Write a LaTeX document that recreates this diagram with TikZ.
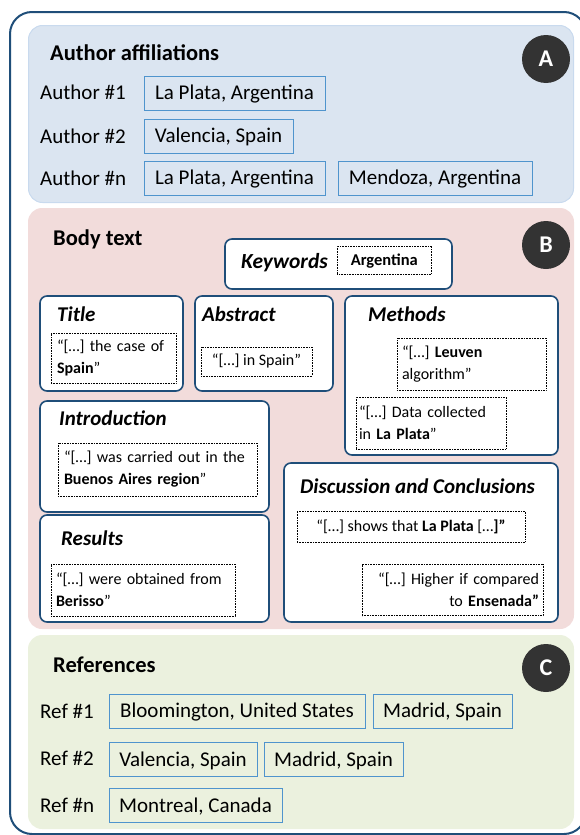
\documentclass[tikz,border=0pt]{standalone}
\usepackage{fontspec}
\setmainfont{Carlito}
\definecolor{framecol}{HTML}{1F4E79}
\definecolor{afcol}{HTML}{4F94CD}
\definecolor{panelA}{HTML}{DBE5F1}
\definecolor{panelAb}{HTML}{C9DAEE}
\definecolor{panelB}{HTML}{F2DCDB}
\definecolor{panelC}{HTML}{EBF1DE}
\definecolor{circcol}{HTML}{333333}
\begin{document}
\begin{tikzpicture}[x=1pt,y=-1pt,
  panel/.style={rounded corners=14pt, inner sep=0pt},
  afbox/.style={draw=afcol, line width=1pt, inner sep=0pt, minimum height=34pt, text height=13.5pt, text depth=0pt, font=\fontsize{21}{24}\selectfont},
  aflabel/.style={anchor=west, inner sep=0pt, text height=13.5pt, text depth=0pt, font=\fontsize{21}{24}\selectfont},
  head/.style={anchor=west, inner sep=0pt, text height=14.5pt, text depth=0pt, font=\fontsize{22.5}{26}\bfseries\selectfont},
  sec/.style={draw=framecol, line width=1.6pt, fill=white, rounded corners=7pt, inner sep=0pt},
  sectitle/.style={anchor=west, inner sep=0pt, text height=13.5pt, text depth=0pt, font=\fontsize{21}{24}\bfseries\itshape\selectfont},
  quote/.style={draw=black, densely dotted, line width=0.6pt, fill=white, inner ysep=0pt, font=\fontsize{16}{22}\selectfont},
  badge/.style={circle, fill=circcol, minimum size=48pt, inner sep=0pt, text=white, font=\fontsize{24}{26}\bfseries\selectfont}
]
\useasboundingbox (0,0) rectangle (580,835);
\node[draw=framecol, line width=2pt, rounded corners=22pt, minimum width=576pt, minimum height=822pt] (frame) at (298,423) {};

% Panel A
\node[panel, fill=panelA, draw=panelAb, line width=1pt, minimum width=545pt, minimum height=177pt] (pA) at (301,114) {};
\node[badge] (cA) at (546,59) {A};
\node[head] (hA) at (50,53) {Author affiliations};
\node[aflabel] (la1) at (40,93) {Author \#1};
\node[aflabel] (la2) at (40,137) {Author \#2};
\node[aflabel] (la3) at (40,179) {Author \#n};
\node[afbox, minimum width=181pt] (a1) at (234.5,93) {La Plata, Argentina};
\node[afbox, minimum width=149pt] (a2) at (218.5,136) {Valencia, Spain};
\node[afbox, minimum width=181pt] (a3) at (234.5,178) {La Plata, Argentina};
\node[afbox, minimum width=194pt] (a4) at (435,178) {Mendoza, Argentina};

% Panel B
\node[panel, fill=panelB, minimum width=546pt, minimum height=421pt] (pB) at (301,418.5) {};
\node[badge] (cB) at (546,245) {B};
\node[head] (hB) at (53,238) {Body text};

\node[sec, minimum width=227pt, minimum height=50pt] (kw) at (338.5,264) {};
\node[sectitle, font=\fontsize{21.5}{24}\bfseries\itshape\selectfont] (kwt) at (241,262) {Keywords};
\node[quote, minimum width=94pt, minimum height=28pt, text height=10.5pt, text depth=0pt, inner xsep=8pt, anchor=west, font=\fontsize{16.5}{18}\bfseries\selectfont] (kwq) at (337,260) {Argentina};

\node[sec, minimum width=143pt, minimum height=95pt] (ti) at (111.5,343.5) {};
\node[sectitle] (tit) at (57,315) {Title};
\node[quote, minimum width=125pt, minimum height=50pt, text width=113pt, inner xsep=6pt, align=left] (tiq) at (113.5,358) {“[…] the case of\\\textbf{Spain}”};

\node[sec, minimum width=138pt, minimum height=95pt] (ab) at (264,343.5) {};
\node[sectitle] (abt) at (202,315) {Abstract};
\node[quote, minimum width=111pt, minimum height=29pt] (abq) at (256.5,361.5) {“[…] in Spain”};

\node[sec, minimum width=213pt, minimum height=159pt] (me) at (451.5,375.5) {};
\node[sectitle] (met) at (368,315) {Methods};
\node[quote, minimum width=149pt, minimum height=52pt, text width=139pt, inner xsep=5pt, align=left] (meq1) at (471.5,364) {“[…] \textbf{Leuven}\\algorithm”};
\node[quote, minimum width=150pt, minimum height=52pt, text width=144pt, inner xsep=3pt, align=left] (meq2) at (431,423) {“[…] Data collected\\in \textbf{La Plata}”};

\node[sec, minimum width=229pt, minimum height=111pt] (in) at (154.5,456.5) {};
\node[sectitle] (int) at (59,419) {Introduction};
\node[quote, minimum width=199pt, minimum height=53pt, text width=187pt, inner xsep=6pt, align=left] (inq) at (157.5,469.5) {“[…] was carried out in the\\\textbf{Buenos Aires region}”};

\node[sec, minimum width=229pt, minimum height=107pt] (re) at (154.5,568.5) {};
\node[sectitle] (ret) at (61,539) {Results};
\node[quote, minimum width=184pt, minimum height=52pt, text width=174pt, inner xsep=5pt, align=left] (req) at (143,590) {“[…] were obtained from\\\textbf{Berisso}”};

\node[sec, minimum width=274pt, minimum height=159pt] (di) at (421,542.5) {};
\node[sectitle] (dit) at (300,487) {Discussion and Conclusions};
\node[quote, minimum width=228pt, minimum height=31pt] (diq1) at (411,526.5) {“[…] shows that \textbf{La Plata} […\textbf{]”}};
\node[quote, minimum width=181pt, minimum height=51pt, text width=173pt, inner xsep=4pt, align=right] (diq2) at (452.5,590) {“[…] Higher if compared\\to \textbf{Ensenada”}};

% Panel C
\node[panel, fill=panelC, minimum width=546pt, minimum height=194pt] (pC) at (301,732) {};
\node[badge] (cC) at (546,668) {C};
\node[head] (hC) at (53,665) {References};
\node[aflabel] (lr1) at (40,712) {Ref \#1};
\node[aflabel] (lr2) at (40,759) {Ref \#2};
\node[aflabel] (lr3) at (40,806) {Ref \#n};
\node[afbox, minimum width=256pt] (r1) at (237,711) {Bloomington, United States};
\node[afbox, minimum width=139pt] (r2) at (442.5,711) {Madrid, Spain};
\node[afbox, minimum width=148pt] (r3) at (183,759.5) {Valencia, Spain};
\node[afbox, minimum width=139pt] (r4) at (333.5,759.5) {Madrid, Spain};
\node[afbox, minimum width=173pt] (r5) at (195.5,805.5) {Montreal, Canada};
\end{tikzpicture}
\end{document}
